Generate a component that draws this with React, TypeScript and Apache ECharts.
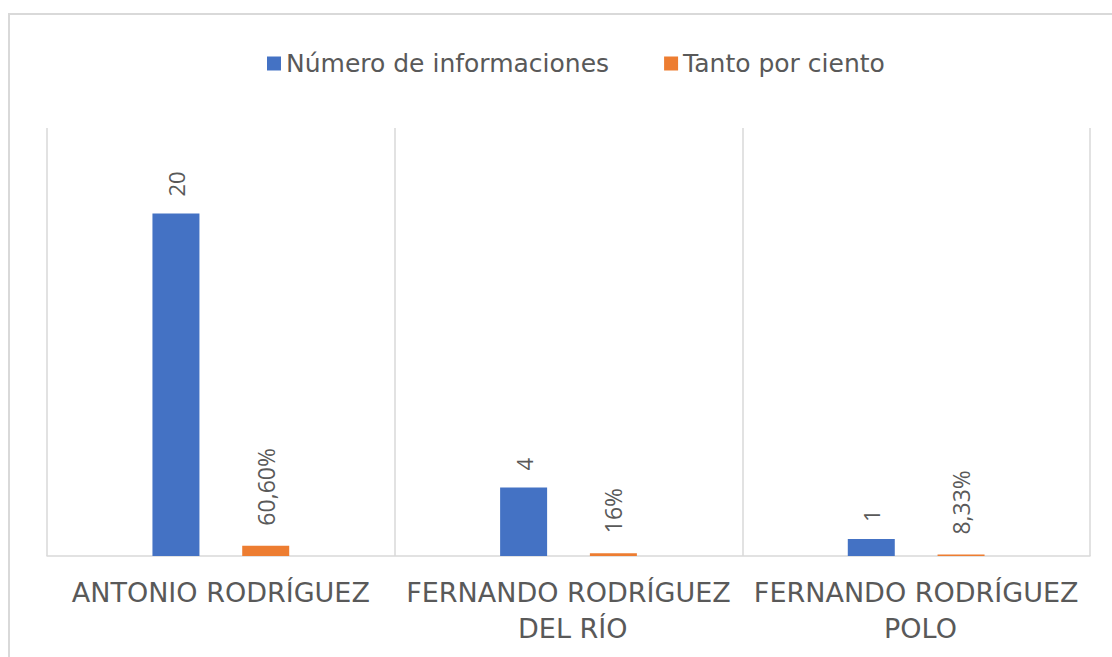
import React, { useEffect, useRef } from "react";
import * as echarts from "echarts";

const categories = ["ANTONIO RODRÍGUEZ", "FERNANDO RODRÍGUEZ DEL RÍO", "FERNANDO RODRÍGUEZ POLO"];
const seriesNames = ["Número de informaciones", "Tanto por ciento"];
const countValues = [20, 4, 1];
const percentValues = [0.606, 0.16, 0.0833];
const percentLabels = ["60,60%", "16%", "8,33%"];

const FONT = "'Open Sans', 'DejaVu Sans', sans-serif";
const WIDE = "'DejaVu Sans', sans-serif";
const GREY = "#595959";

export default function App() {
  const ref = useRef<HTMLDivElement>(null);
  useEffect(() => {
    if (!ref.current) return;
    const chart = echarts.init(ref.current, null, { renderer: "svg" });
    chart.setOption({
      animation: false,
      backgroundColor: "#ffffff",
      textStyle: { fontFamily: FONT },
      graphic: [
        {
          type: "rect",
          shape: { x: 9, y: 14, width: 1200, height: 800 },
          style: { fill: "none", stroke: "#d9d9d9", lineWidth: 2 },
          silent: true,
        },
      ],
      legend: {
        left: 262,
        top: 46,
        itemWidth: 14,
        itemHeight: 14,
        itemGap: 55,
        icon: "rect",
        textStyle: { fontSize: 25, color: GREY, fontFamily: WIDE },
        data: seriesNames,
      },
      grid: { left: 47, right: 22, top: 128, bottom: 101, containLabel: false },
      xAxis: {
        type: "category",
        data: categories,
        axisLine: { show: true, lineStyle: { color: "#d9d9d9", width: 1.5 } },
        axisTick: { show: false },
        splitLine: { show: true, lineStyle: { color: "#d9d9d9", width: 1.5 } },
        axisLabel: {
          interval: 0,
          color: GREY,
          fontSize: 27,
          fontFamily: WIDE,
          margin: 18,
          lineHeight: 36,
          width: 345,
          overflow: "break",
        },
      },
      yAxis: {
        type: "value",
        min: 0,
        max: 25,
        show: false,
        splitLine: { show: false },
      },
      series: [
        {
          name: seriesNames[0],
          type: "bar",
          data: countValues,
          barWidth: 47,
          barGap: "91%",
          itemStyle: { color: "#4472C4" },
          label: {
            show: true,
            position: "top",
            rotate: 90,
            align: "left",
            verticalAlign: "middle",
            distance: 17,
            fontSize: 22,
            color: GREY,
            fontFamily: FONT,
          },
        },
        {
          name: seriesNames[1],
          type: "bar",
          data: percentValues,
          barWidth: 47,
          itemStyle: { color: "#ED7D31" },
          label: {
            show: true,
            position: "top",
            rotate: 90,
            align: "left",
            verticalAlign: "middle",
            distance: 20,
            fontSize: 23,
            color: GREY,
            fontFamily: FONT,
            formatter: (p: any) => percentLabels[p.dataIndex],
          },
        },
      ],
    });
    return () => chart.dispose();
  }, []);
  return (
    <div
      ref={ref}
      style={{ position: "fixed", left: 0, top: 0, width: 1112, height: 657 }}
    />
  );
}
